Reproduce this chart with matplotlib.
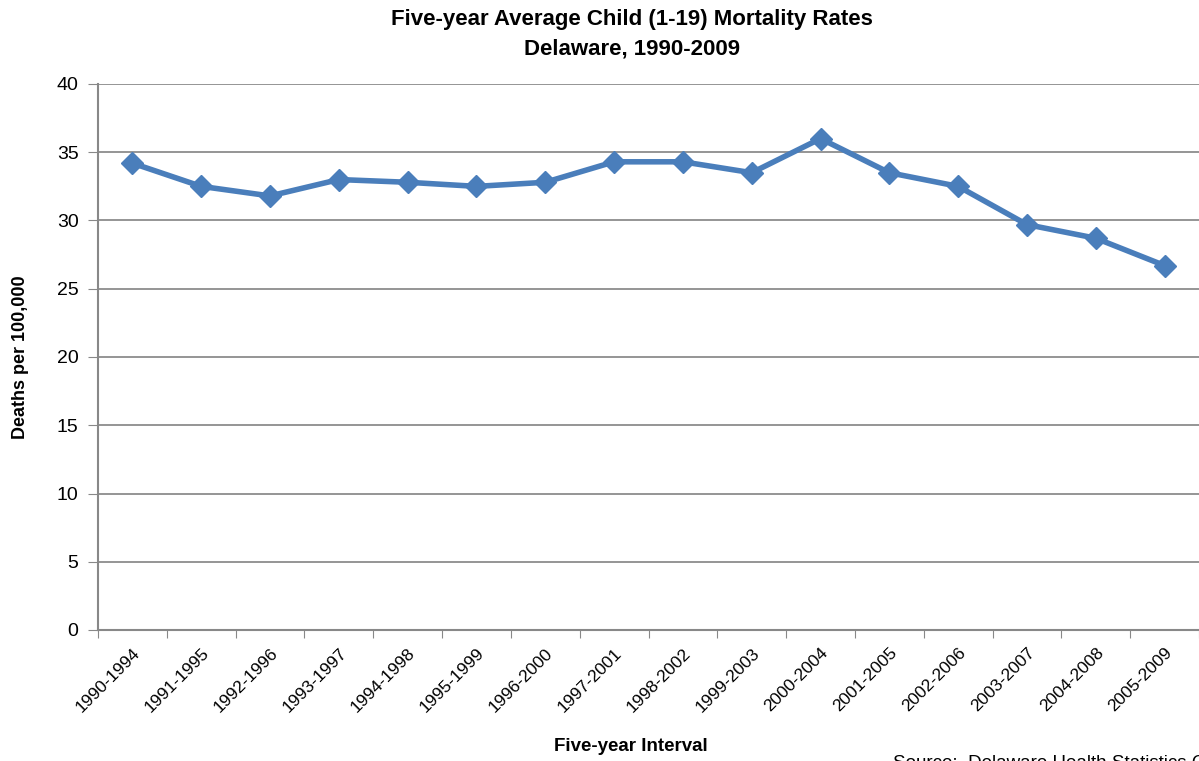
import matplotlib.pyplot as plt

plt.rcParams['font.family'] = ['Liberation Sans', 'DejaVu Sans']

# Dados
intervalos = ["1990-1994", "1991-1995", "1992-1996", "1993-1997", "1994-1998",
              "1995-1999", "1996-2000", "1997-2001", "1998-2002", "1999-2003",
              "2000-2004", "2001-2005", "2002-2006", "2003-2007", "2004-2008",
              "2005-2009"]
taxas = [34.2, 32.5, 31.8, 33.0, 32.8, 32.5, 32.8, 34.3, 34.3, 33.5,
         36.0, 33.5, 32.5, 29.7, 28.7, 26.7]
y_ticks = [0, 5, 10, 15, 20, 25, 30, 35, 40]

fig = plt.figure(figsize=(11.99, 7.61), dpi=100)
ax = fig.add_axes([98 / 1199, 1 - 630 / 761, 1 - 98 / 1199, (630 - 84) / 761])

x = list(range(len(intervalos)))
ax.plot(x, taxas, color="#4a7ebb", linewidth=4, marker="D", markersize=11,
        zorder=3, clip_on=False)

ax.set_xlim(-0.5, len(intervalos) - 0.5)
ax.set_ylim(0, 40)
ax.set_yticks(y_ticks)
ax.tick_params(axis="y", labelsize=14, length=7, color="#888888", direction="out", pad=7)
ax.yaxis.grid(True, color="#8c8c8c", linewidth=1.3)
ax.set_axisbelow(True)

# ticks do eixo x entre categorias
ax.set_xticks([i - 0.5 for i in range(len(intervalos) + 1)], minor=False)
ax.set_xticklabels([])
ax.set_xticks(x, minor=True)
ax.set_xticklabels(intervalos, minor=True, rotation=45, ha="right",
                   rotation_mode="anchor", fontsize=12.5)
ax.tick_params(axis="x", which="major", length=6, color="#888888")
ax.tick_params(axis="x", which="minor", length=0, pad=11)

for lado in ["top", "right"]:
    ax.spines[lado].set_visible(False)
for lado in ["left", "bottom"]:
    ax.spines[lado].set_color("#888888")
    ax.spines[lado].set_linewidth(1.5)

fig.text(0.527, 0.988, "Five-year Average Child (1-19) Mortality Rates\nDelaware, 1990-2009",
         ha="center", va="top", fontsize=16, fontweight="bold", linespacing=1.5)
ax.set_ylabel("Deaths per 100,000", fontsize=13, fontweight="bold", labelpad=20)
fig.text(0.526, 0.008, "Five-year Interval", ha="center", va="bottom",
         fontsize=13.5, fontweight="bold")
fig.text(893 / 1199, -0.014, "Source:  Delaware Health Statistics Center",
         ha="left", va="bottom", fontsize=13.5)

fig.savefig("out.png", dpi=100)
